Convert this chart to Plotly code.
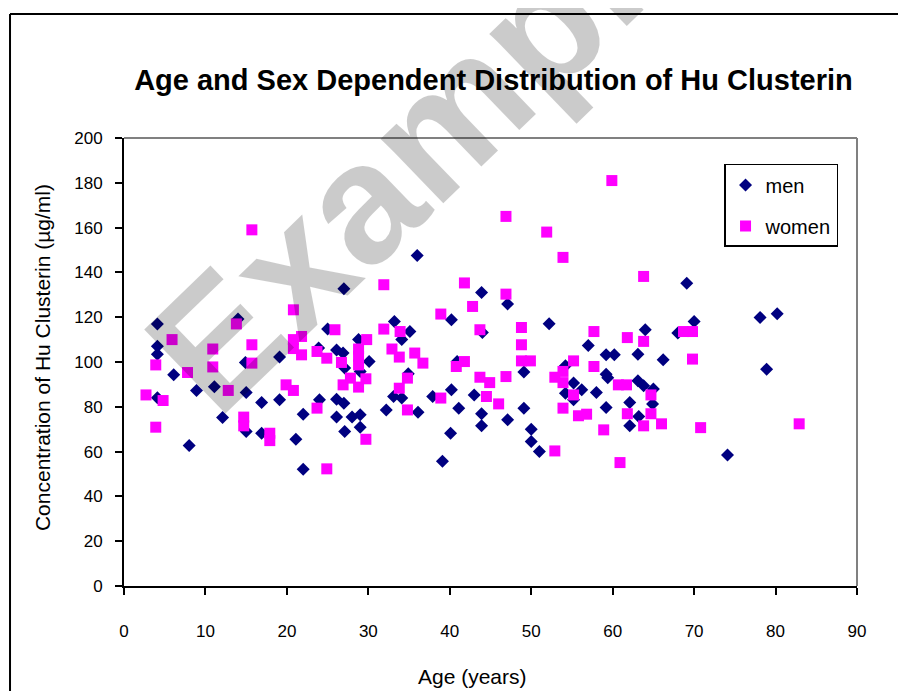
import plotly.graph_objects as go

# ---- data ----
men_age = [4.1, 4.1, 4.1, 4.1, 6.1, 8.0, 8.9, 11.1, 12.1, 14.0, 14.9, 15.0, 15.0, 16.9, 16.9,
           19.1, 19.1, 21.1, 22.0, 22.0, 23.9, 24.0, 25.0, 26.1, 26.9, 27.1, 26.1, 27.0, 26.1,
           28.0, 29.0, 29.0, 27.1, 27.0, 28.8, 30.1, 29.0, 33.2, 35.1, 34.1, 33.1, 34.1, 32.2,
           34.9, 36.1, 36.0, 37.9, 40.2, 41.1, 40.1, 39.1, 40.2, 40.9, 43.0, 43.9, 43.9, 43.9,
           44.0, 47.1, 47.1, 49.1, 49.1, 50.0, 50.0, 51.0, 52.2, 54.2, 55.2, 56.2, 54.2, 55.2,
           57.0, 58.0, 59.2, 59.4, 59.2, 59.2, 60.2, 62.1, 62.1, 63.1, 63.1, 63.8, 65.0, 64.9,
           63.2, 64.0, 66.2, 68.0, 69.1, 70.0, 74.1, 78.1, 78.9, 80.2]
men_conc = [117, 107, 103.5, 84, 94.3, 62.7, 87.3, 89, 75.2, 119.2, 99.8, 86.4, 69, 81.9, 68.2,
            102.2, 83.1, 65.5, 76.7, 52.1, 106.2, 83.1, 114.7, 105.4, 104, 97.3, 83.4, 81.6, 75.4,
            75.4, 76.4, 70.9, 69, 132.7, 110, 100.2, 95.8, 118.1, 113.6, 110, 84.6, 83.9, 78.6,
            94.7, 77.6, 147.6, 84.6, 87.6, 79.4, 68.2, 55.7, 118.9, 100.2, 85.3, 76.9, 71.5, 131,
            113.2, 125.9, 74.2, 95.5, 79.4, 70, 64.5, 60, 117.1, 98.3, 90.6, 87.6, 86.1, 83.1,
            107.4, 86.4, 94.5, 93, 79.7, 103.2, 103.2, 81.9, 71.5, 103.5, 91.6, 89.4, 87.9, 81.3,
            75.7, 114.4, 101, 112.9, 135.2, 118.1, 58.5, 119.9, 96.8, 121.5]

women_age = [15.7, 20.8, 13.8, 5.9, 10.9, 10.9, 15.7, 20.8, 20.8, 21.8, 21.8, 3.9, 15.7, 7.8,
             12.8, 2.7, 4.8, 19.9, 20.8, 14.7, 14.7, 17.9, 17.9, 3.9, 31.9, 41.8, 42.8, 38.9,
             43.7, 25.9, 31.9, 33.9, 29.8, 23.7, 24.9, 26.7, 28.8, 28.8, 28.8, 32.9, 33.8, 35.7,
             36.7, 26.9, 27.8, 28.8, 29.7, 23.7, 29.7, 24.9, 33.8, 34.8, 34.8, 38.9, 43.7, 44.5,
             44.9, 41.8, 40.8, 59.9, 46.9, 51.9, 53.9, 63.8, 46.9, 48.8, 48.8, 57.7, 61.8, 63.8,
             48.8, 49.9, 55.2, 57.7, 46.9, 46.0, 52.9, 52.9, 53.9, 53.9, 55.2, 53.9, 55.8, 56.8,
             58.9, 60.7, 61.7, 64.7, 61.8, 63.8, 64.7, 66.0, 60.9, 68.7, 69.8, 69.8, 70.8, 82.9]
women_conc = [159, 123.3, 117, 110, 105.8, 97.8, 107.7, 110, 106, 111.4, 103.2, 98.7, 99.5, 95.3,
              87.3, 85.3, 82.8, 89.8, 87.3, 75.4, 71.5, 68.2, 64.9, 70.9, 134.5, 135.3, 124.8, 121.4,
              114.4, 114.4, 114.7, 113.6, 110, 104.7, 101.7, 99.8, 105.8, 102.5, 98.7, 105.8, 102.2, 104,
              99.5, 89.8, 92.8, 88.8, 92.5, 79.4, 65.5, 52.3, 88.3, 92.8, 78.6, 83.9, 93.2, 84.6,
              90.8, 100.2, 98, 181, 165, 158, 146.7, 138.2, 130.3, 115.4, 107.7, 113.6, 110.9, 109.2,
              100.5, 100.5, 100.5, 98, 93.5, 81.3, 60.3, 93.2, 95.8, 90.8, 85.3, 79.4, 76, 76.7,
              69.7, 89.8, 89.8, 85.3, 76.9, 71.5, 76.9, 72.4, 55.1, 113.6, 113.6, 101.3, 70.7, 72.4]

x_ticks = [0, 10, 20, 30, 40, 50, 60, 70, 80, 90]
y_ticks = [0, 20, 40, 60, 80, 100, 120, 140, 160, 180, 200]

FONT = "Liberation Sans, Arial, sans-serif"

fig = go.Figure()
fig.add_trace(go.Scatter(
    x=men_age, y=men_conc, mode="markers", name="men", legendgroup="m",
    marker=dict(symbol="diamond", size=10, color="#000080", line=dict(width=0)),
))
fig.add_trace(go.Scatter(
    x=women_age, y=women_conc, mode="markers", name="women", legendgroup="w",
    marker=dict(symbol="square", size=11, color="#FF00FF", line=dict(width=0)),
))

# page body has an 8px margin; margins compensate so the plot area lands at
# page x 124..857, y 138..586
fig.update_layout(
    width=906, height=691,
    margin=dict(l=116, r=57, t=130, b=113),
    paper_bgcolor="white", plot_bgcolor="white",
    font=dict(family=FONT, color="black"),
    showlegend=True,
    legend=dict(
        x=0.8186, y=0.942, xanchor="left", yanchor="top",
        bordercolor="black", borderwidth=1.5, bgcolor="white",
        font=dict(size=20, family=FONT), traceorder="grouped", tracegroupgap=12,
    ),
    title=dict(
        text="<b>Age and Sex Dependent Distribution of Hu Clusterin</b>",
        x=0.504, xref="paper", xanchor="center",
        y=1 - 72 / 691, yanchor="middle",
        font=dict(size=29, family=FONT, color="black"),
    ),
)

fig.update_xaxes(
    range=[0, 90], tickvals=x_ticks, ticktext=[str(v) for v in x_ticks],
    showgrid=False, zeroline=False,
    showline=True, linecolor="black", linewidth=2,
    ticks="outside", ticklen=7, tickwidth=2, tickcolor="black",
    tickfont=dict(size=17, family=FONT), ticklabelstandoff=22,
)
fig.update_yaxes(
    range=[0, 200], tickvals=y_ticks, ticktext=[str(v) for v in y_ticks],
    showgrid=False, zeroline=False,
    showline=True, linecolor="black", linewidth=2,
    ticks="outside", ticklen=7, tickwidth=2, tickcolor="black",
    tickfont=dict(size=17, family=FONT), ticklabelstandoff=9,
)

# grey top/right frame of the plot area
fig.add_shape(type="line", xref="paper", yref="paper", x0=0, x1=1, y0=1, y1=1,
              line=dict(color="#808080", width=2), layer="below")
fig.add_shape(type="line", xref="paper", yref="paper", x0=1, x1=1, y0=0, y1=1,
              line=dict(color="#808080", width=2), layer="below")

# outer chart border (cropped at right/bottom in the reference)
fig.add_shape(type="line", xref="paper", yref="paper", x0=-0.1555, x1=-0.1555, y0=-0.6, y1=1.2768,
              line=dict(color="black", width=2))
fig.add_shape(type="line", xref="paper", yref="paper", x0=-0.1555, x1=1.2, y0=1.2768, y1=1.2768,
              line=dict(color="black", width=2))

# axis titles
fig.add_annotation(text="Age (years)", xref="paper", yref="paper", x=0.476, y=-0.2009,
                   xanchor="center", yanchor="middle", showarrow=False,
                   font=dict(size=21, family=FONT, color="black"))
fig.add_annotation(text="Concentration of Hu Clusterin (µg/ml)", xref="paper", yref="paper",
                   x=-0.1119, y=0.511, xanchor="center", yanchor="middle", showarrow=False,
                   textangle=-90, font=dict(size=21, family=FONT, color="black"))

# watermark
fig.add_annotation(text="<b>Example</b>", xref="paper", yref="paper", x=0.4147, y=1.0045,
                   xanchor="center", yanchor="middle", showarrow=False, textangle=-44,
                   opacity=0.2, font=dict(size=170, family=FONT, color="black"))

fig.write_html("out.html")
